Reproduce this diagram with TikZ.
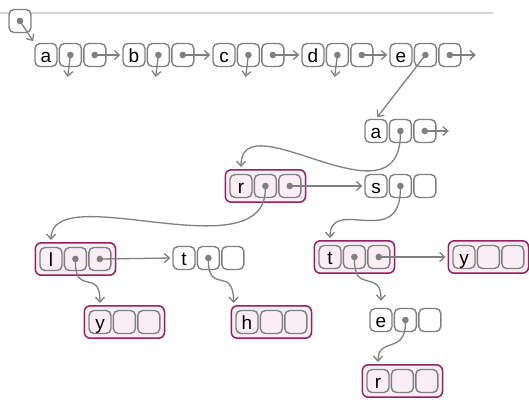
\documentclass[tikz,border=0pt]{standalone}
\usepackage{fontspec}
\setmainfont{Liberation Sans}
\usepackage{xcolor}
\usepackage{tikz}
\usetikzlibrary{positioning,fit,backgrounds,arrows.meta}

\definecolor{cellgray}{RGB}{128,128,128}
\definecolor{rulegray}{RGB}{212,212,212}
\definecolor{wordpurple}{RGB}{150,32,96}
\definecolor{wordpink}{RGB}{248,238,244}

\begin{document}
\begin{tikzpicture}[
  x=1pt, y=-1pt,
  node distance=1pt,
  cell/.style={draw=cellgray, line width=1.4pt, rounded corners=5pt,
    minimum width=22pt, minimum height=23pt, inner sep=0pt,
    text height=15pt, text depth=0pt, font=\fontsize{19}{19}\selectfont},
  word/.style={draw=wordpurple, line width=1.5pt, fill=wordpink,
    rounded corners=6pt, inner sep=4pt},
  ptr/.style={draw=cellgray, line width=1.3pt,
    {Circle[length=6.5pt]}-{Straight Barb[length=5pt,width=9pt]},
    shorten <=-3.25pt, shorten >=2pt}
  ]
\useasboundingbox (0,0) rectangle (529,406);
\draw[rulegray, line width=1.2pt] (0,13) -- (493,13);

% Root node
\node[cell, fill=white] (root) at (20,21) {};

% First letters
\node[cell] (a) at (46,55) {a};
\node[cell, right=of a] (a-c) {}; \node[cell, right=of a-c] (a-n) {};
\node[cell] (b) at (134,55) {b};
\node[cell, right=of b] (b-c) {}; \node[cell, right=of b-c] (b-n) {};
\node[cell] (c) at (224,55) {c};
\node[cell, right=of c] (c-c) {}; \node[cell, right=of c-c] (c-n) {};
\node[cell] (d) at (313,55) {d};
\node[cell, right=of d] (d-c) {}; \node[cell, right=of d-c] (d-n) {};
\node[cell] (e) at (401,55) {e};
\node[cell, right=of e] (e-c) {}; \node[cell, right=of e-c] (e-n) {};

% e -> ea -> ear, eas
\node[cell] (ea) at (376,131) {a};
\node[cell, right=of ea] (ea-c) {}; \node[cell, right=of ea-c] (ea-n) {};
\node[cell] (ear) at (241,186) {r};
\node[cell, right=of ear] (ear-c) {}; \node[cell, right=of ear-c] (ear-n) {};
\node[cell] (eas) at (376,186) {s};
\node[cell, right=of eas] (eas-c) {}; \node[cell, right=of eas-c] (eas-n) {};

% ear -> earl, eart
\node[cell] (earl) at (51,259) {l};
\node[cell, right=of earl] (earl-c) {}; \node[cell, right=of earl-c] (earl-n) {};
\node[cell] (eart) at (184,258) {t};
\node[cell, right=of eart] (eart-c) {}; \node[cell, right=of eart-c] (eart-n) {};

% eas -> east, easy
\node[cell] (east) at (330,257) {t};
\node[cell, right=of east] (east-c) {}; \node[cell, right=of east-c] (east-n) {};
\node[cell] (easy) at (464,257) {y};
\node[cell, right=of easy] (easy-c) {}; \node[cell, right=of easy-c] (easy-n) {};

% last letters
\node[cell] (early) at (100,322) {y};
\node[cell, right=of early] (early-c) {}; \node[cell, right=of early-c] (early-n) {};
\node[cell] (earth) at (247,322) {h};
\node[cell, right=of earth] (earth-c) {}; \node[cell, right=of earth-c] (earth-n) {};
\node[cell] (easte) at (381,320) {e};
\node[cell, right=of easte] (easte-c) {}; \node[cell, right=of easte-c] (easte-n) {};
\node[cell] (easter) at (378,381) {r};
\node[cell, right=of easter] (easter-c) {}; \node[cell, right=of easter-c] (easter-n) {};

% Whole words
\begin{scope}[on background layer]
\node[word, fit=(ear)(ear-n)] (ear-box) {};
\node[word, fit=(earl)(earl-n)] (earl-box) {};
\node[word, fit=(east)(east-n)] (east-box) {};
\node[word, fit=(easy)(easy-n)] (easy-box) {};
\node[word, fit=(early)(early-n)] (early-box) {};
\node[word, fit=(earth)(earth-n)] (earth-box) {};
\node[word, fit=(easter)(easter-n)] (easter-box) {};
\end{scope}

% Empty ends
\coordinate (a-nil) at ([shift={(-3,24)}]a-c.center);
\coordinate (b-nil) at ([shift={(-3,24)}]b-c.center);
\coordinate (c-nil) at ([shift={(-3,24)}]c-c.center);
\coordinate (d-nil) at ([shift={(-3,24)}]d-c.center);
\coordinate (e-end) at ([xshift=28pt]e-n.center);
\coordinate (ea-end) at ([xshift=26pt]ea-n.center);

% Pointers
\draw[ptr] (root.center) -- (a.north west);
\draw[ptr] (a-n.center) -- (b.west);
\draw[ptr] (b-n.center) -- (c.west);
\draw[ptr] (c-n.center) -- (d.west);
\draw[ptr] (d-n.center) -- (e.west);
\draw[ptr] (e-n.center) -- (e-end);
\draw[ptr] (a-c.center) -- (a-nil);
\draw[ptr] (b-c.center) -- (b-nil);
\draw[ptr] (c-c.center) -- (c-nil);
\draw[ptr] (d-c.center) -- (d-nil);
\draw[ptr] (e-c.center) -- (ea.north);
\draw[ptr] (ea-n.center) -- (ea-end);
\draw[ptr] (ea-c.center) .. controls +(0,100) and +(0,-70) .. (ear |- ear-box.north);
\draw[ptr] (ear-n.center) -- (eas.west);
\draw[ptr] (ear-c.center) .. controls +(0,88) and +(0,-65) .. (earl |- earl-box.north);
\draw[ptr] (earl-n.center) -- (eart.west);
\draw[ptr] (earl-c.center) .. controls +(0,38) and +(0,-38) .. (early |- early-box.north);
\draw[ptr] (eart-c.center) .. controls +(0,37) and +(0,-40) .. ([xshift=3pt]earth-box.north west);
\draw[ptr] (eas-c.center) .. controls +(0,65) and +(0,-45) .. (east |- east-box.north);
\draw[ptr] (east-n.center) -- (easy-box.west);
\draw[ptr] (east-c.center) .. controls +(0,38) and +(0,-35) .. ([yshift=5pt]easte.north);
\draw[ptr] (easte-c.center) .. controls +(0,35) and +(0,-28) .. (easter |- easter-box.north);

\end{tikzpicture}
\end{document}
